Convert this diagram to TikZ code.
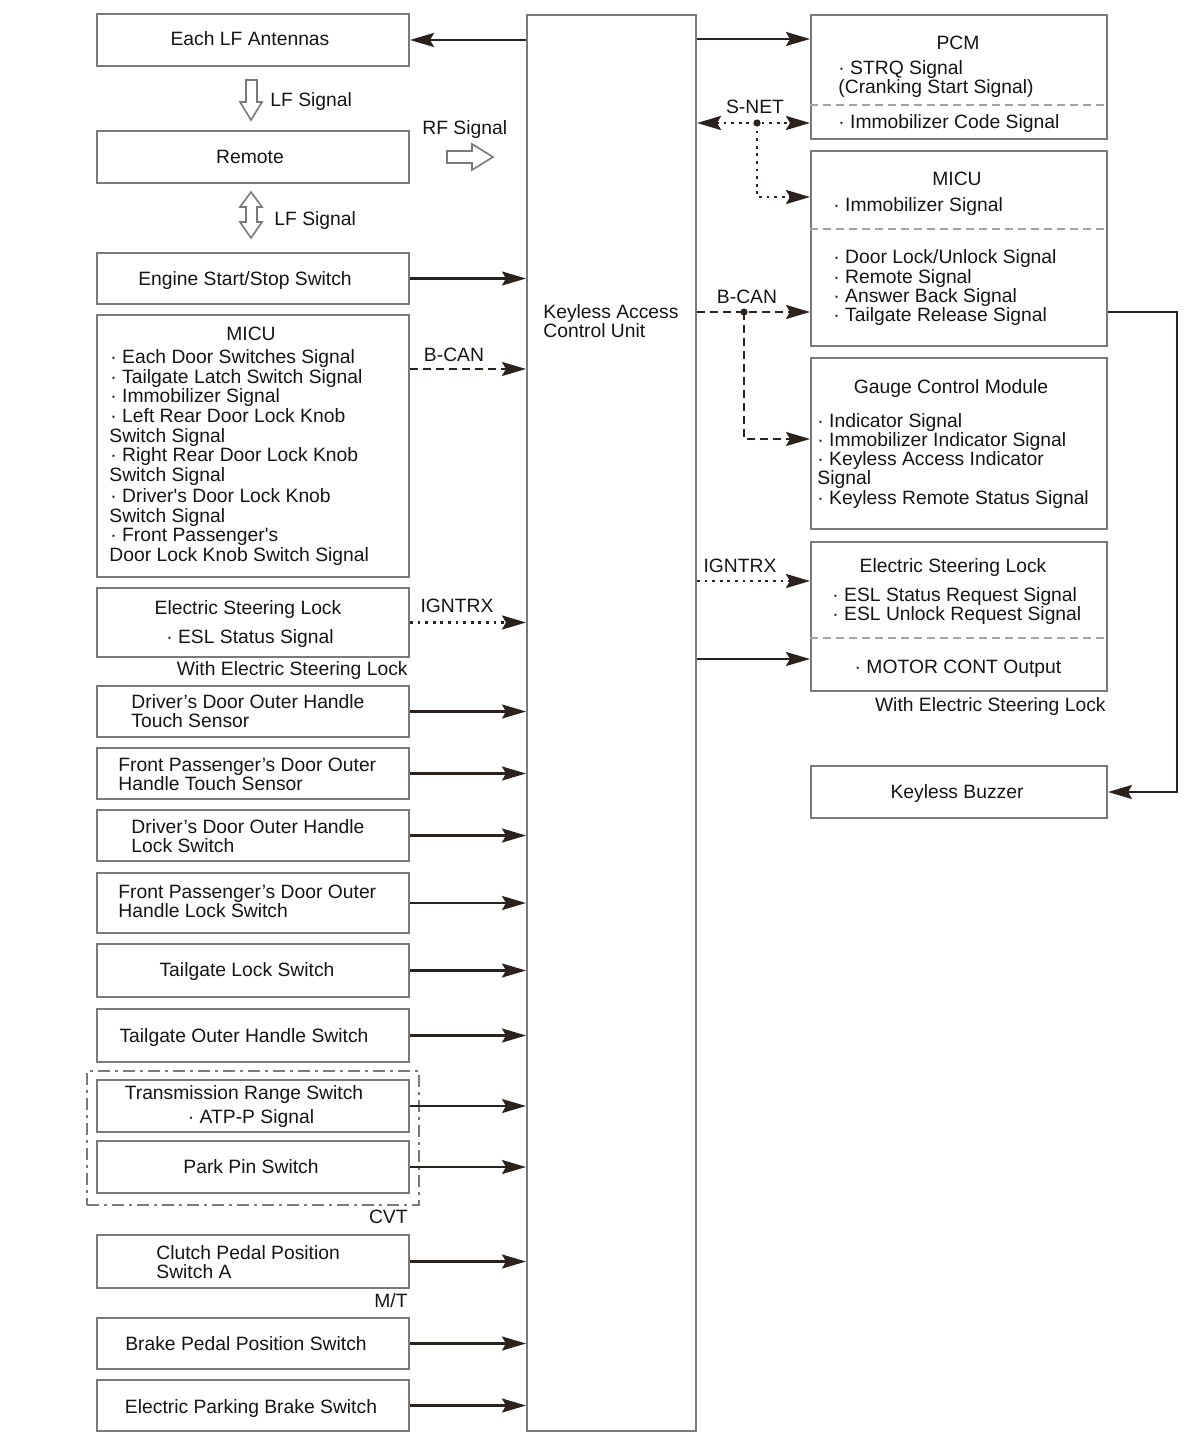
\documentclass[tikz,border=0pt]{standalone}
\usepackage{fontspec}
\setmainfont{Liberation Sans}
\usetikzlibrary{arrows.meta,calc}
\definecolor{boxc}{HTML}{7A7A7A}
\definecolor{arrc}{HTML}{2B211D}
\definecolor{txtc}{HTML}{151515}
\definecolor{sepc}{HTML}{A3A3A3}
\newcommand{\fs}{\fontsize{9.65pt}{9.7pt}\selectfont}
\begin{document}
\begin{tikzpicture}[x=0.5pt,y=-0.5pt,
 box/.style={draw=boxc, line width=1pt, fill=white, anchor=north west, inner sep=0pt, font=\fs, text=txtc},
 lbox/.style={box, minimum width=156pt},
 rbox/.style={box, minimum width=148pt},
 txt/.style={inner sep=0pt, font=\fs, text=txtc},
 tipa/.tip={Stealth[length=12pt,width=7pt,inset=2pt]},
 arr/.style={draw=arrc, line width=1.1pt, -tipa},
 dashln/.style={draw=arrc, line width=1.1pt, dash pattern=on 4pt off 2.5pt},
 dotln/.style={draw=arrc, line width=1.4pt, dash pattern=on 1.4pt off 2.4pt},
 sepln/.style={draw=sepc, line width=1pt, dash pattern=on 4pt off 2.5pt},
 hollow/.style={draw=boxc, line width=0.8pt, fill=white, line join=miter}
]
\useasboundingbox (0,0) rectangle (1200,1450);

% ---------- centre unit ----------
\node[box, minimum width=84.5pt, minimum height=708pt] (kacu) at (526,14) {};
\node[txt, anchor=base west] (k1) at (543,318) {Keyless Access};
\node[txt, anchor=base west] (k2) at (543,337) {Control Unit};

% ---------- left column ----------
\node[lbox, minimum height=26pt] (lf) at (96,13) {};
\node[txt, anchor=base] (lft) at (250,46) {Each LF Antennas};
\node[lbox, minimum height=26pt] (rem) at (96,130) {};
\node[txt, anchor=base] (remt) at (250,163) {Remote};
\node[lbox, minimum height=25.5pt] (eng) at (96,252) {};
\node[txt, anchor=base] (engt) at (245,285) {Engine Start/Stop Switch};

\node[lbox, minimum height=131pt] (micuL) at (96,314) {};
\node[txt, anchor=base] (mL0) at (251,340) {MICU};
\node[txt, anchor=base west] (mL1) at (110,363) {· Each Door Switches Signal};
\node[txt, anchor=base west] (mL2) at (110,383) {· Tailgate Latch Switch Signal};
\node[txt, anchor=base west] (mL3) at (110,402) {· Immobilizer Signal};
\node[txt, anchor=base west] (mL4) at (110,422) {· Left Rear Door Lock Knob};
\node[txt, anchor=base west] (mL5) at (109,442) {Switch Signal};
\node[txt, anchor=base west] (mL6) at (110,461) {· Right Rear Door Lock Knob};
\node[txt, anchor=base west] (mL7) at (109,481) {Switch Signal};
\node[txt, anchor=base west] (mL8) at (110,502) {· Driver\textquotesingle s Door Lock Knob};
\node[txt, anchor=base west] (mL9) at (109,522) {Switch Signal};
\node[txt, anchor=base west] (mL10) at (110,541) {· Front Passenger\textquotesingle s};
\node[txt, anchor=base west] (mL11) at (109,561) {Door Lock Knob Switch Signal};

\node[lbox, minimum height=34.5pt] (eslL) at (96,587) {};
\node[txt, anchor=base] (eL1) at (248,614) {Electric Steering Lock};
\node[txt, anchor=base] (eL2) at (250,643) {· ESL Status Signal};
\node[txt, anchor=base east] (eL3) at (408,675) {With Electric Steering Lock};

\node[lbox, minimum height=25.5pt] (dt) at (96,685) {};
\node[txt, anchor=base west] (dt1) at (131,708) {Driver’s Door Outer Handle};
\node[txt, anchor=base west] (dt2) at (131,727) {Touch Sensor};
\node[lbox, minimum height=25.5pt] (ft) at (96,747) {};
\node[txt, anchor=base west] (ft1) at (118,771) {Front Passenger’s Door Outer};
\node[txt, anchor=base west] (ft2) at (118,790) {Handle Touch Sensor};
\node[lbox, minimum height=25.5pt] (dl) at (96,809) {};
\node[txt, anchor=base west] (dl1) at (131,833) {Driver’s Door Outer Handle};
\node[txt, anchor=base west] (dl2) at (131,852) {Lock Switch};
\node[lbox, minimum height=30pt] (fl) at (96,872) {};
\node[txt, anchor=base west] (fl1) at (118,898) {Front Passenger’s Door Outer};
\node[txt, anchor=base west] (fl2) at (118,917) {Handle Lock Switch};
\node[lbox, minimum height=26.5pt] (tl) at (96,943) {};
\node[txt, anchor=base] (tlt) at (247,976) {Tailgate Lock Switch};
\node[lbox, minimum height=26.5pt] (to) at (96,1008) {};
\node[txt, anchor=base] (tot) at (244,1042) {Tailgate Outer Handle Switch};

\node[draw=boxc, line width=1pt, dash pattern=on 6pt off 2.5pt on 1.5pt off 2.5pt, anchor=north west, inner sep=0pt, minimum width=166pt, minimum height=67pt] (cvt) at (86,1070) {};
\node[lbox, minimum height=26pt] (trs) at (96,1079) {};
\node[txt, anchor=base] (trs1) at (244,1099) {Transmission Range Switch};
\node[txt, anchor=base] (trs2) at (251,1123) {· ATP-P Signal};
\node[lbox, minimum height=26pt] (pp) at (96,1140) {};
\node[txt, anchor=base] (ppt) at (251,1173) {Park Pin Switch};
\node[txt, anchor=base east] (cvtl) at (408,1223) {CVT};

\node[lbox, minimum height=26.5pt] (cp) at (96,1234) {};
\node[txt, anchor=base west] (cp1) at (156,1259) {Clutch Pedal Position};
\node[txt, anchor=base west] (cp2) at (156,1278) {Switch A};
\node[txt, anchor=base east] (mtl) at (408,1307) {M/T};
\node[lbox, minimum height=25.5pt] (bp) at (96,1317) {};
\node[txt, anchor=base] (bpt) at (246,1350) {Brake Pedal Position Switch};
\node[lbox, minimum height=25.5pt] (epb) at (96,1379) {};
\node[txt, anchor=base] (epbt) at (251,1413) {Electric Parking Brake Switch};

% hollow arrows
\draw[hollow] (246,80) -- (257,80) -- (257,102) -- (262,102) -- (251,120) -- (240,102) -- (246,102) -- cycle;
\node[txt, anchor=base west] (lfs1) at (270,106) {LF Signal};
\draw[hollow] (251,192) -- (262,207) -- (257,207) -- (257,222) -- (262,222) -- (251,238) -- (240,222) -- (246,222) -- (246,207) -- (240,207) -- cycle;
\node[txt, anchor=base west] (lfs2) at (274,225) {LF Signal};
\draw[hollow] (447,151) -- (472,151) -- (472,144) -- (493,157) -- (472,170) -- (472,163) -- (447,163) -- cycle;
\node[txt, anchor=base west] (rfs) at (422,134) {RF Signal};

% ---------- right column ----------
\node[rbox, minimum height=62pt] (pcm) at (810,14) {};
\node[txt, anchor=base] (p0) at (958,50) {PCM};
\node[txt, anchor=base west] (p1) at (838,75) {· STRQ Signal};
\node[txt, anchor=base west] (p2) at (838,94) {(Cranking Start Signal)};
\draw[sepln] ($(pcm.north west)+(0,91)$) -- ($(pcm.north east)+(0,91)$);
\node[txt, anchor=base west] (p3) at (838,128) {· Immobilizer Code Signal};

\node[rbox, minimum height=97.5pt] (micuR) at (810,150) {};
\node[txt, anchor=base] (mR0) at (957,185) {MICU};
\node[txt, anchor=base west] (mR1) at (833,211) {· Immobilizer Signal};
\draw[sepln] ($(micuR.north west)+(0,79)$) -- ($(micuR.north east)+(0,79)$);
\node[txt, anchor=base west] (mR2) at (833,263) {· Door Lock/Unlock Signal};
\node[txt, anchor=base west] (mR3) at (833,283) {· Remote Signal};
\node[txt, anchor=base west] (mR4) at (833,302) {· Answer Back Signal};
\node[txt, anchor=base west] (mR5) at (833,321) {· Tailgate Release Signal};

\node[rbox, minimum height=85.5pt] (gcm) at (810,357) {};
\node[txt, anchor=base] (g0) at (951,393) {Gauge Control Module};
\node[txt, anchor=base west] (g1) at (817,427) {· Indicator Signal};
\node[txt, anchor=base west] (g2) at (817,446) {· Immobilizer Indicator Signal};
\node[txt, anchor=base west] (g3) at (817,465) {· Keyless Access Indicator};
\node[txt, anchor=base west] (g4) at (817,484) {Signal};
\node[txt, anchor=base west] (g5) at (817,504) {· Keyless Remote Status Signal};

\node[rbox, minimum height=74.5pt] (eslR) at (810,541) {};
\node[txt, anchor=base] (eR0) at (953,572) {Electric Steering Lock};
\node[txt, anchor=base west] (eR1) at (832,601) {· ESL Status Request Signal};
\node[txt, anchor=base west] (eR2) at (832,620) {· ESL Unlock Request Signal};
\draw[sepln] ($(eslR.north west)+(0,97)$) -- ($(eslR.north east)+(0,97)$);
\node[txt, anchor=base] (eR3) at (958,673) {· MOTOR CONT Output};
\node[txt, anchor=base east] (eR4) at (1106,711) {With Electric Steering Lock};

\node[rbox, minimum height=26pt] (buz) at (810,765) {};
\node[txt, anchor=base] (buzt) at (957,798) {Keyless Buzzer};

% ---------- connectors, left ----------
\draw[arr] (kacu.west |- lf.east) -- (lf.east);
\draw[arr] (eng.east) -- (eng.east -| kacu.west);
\coordinate (mLo) at ($(micuL.north east)+(0,55)$);
\draw[dashln, -tipa] (mLo) -- (mLo -| kacu.west);
\node[txt, anchor=base] (bcanL) at (454,361) {B-CAN};
\draw[dotln, -tipa] (eslL.east) -- (eslL.east -| kacu.west);
\node[txt, anchor=base] (igL) at (457,612) {IGNTRX};
\foreach \b in {dt,ft,dl,fl,tl,to,trs,pp,cp,bp,epb}
  \draw[arr] (\b.east) -- (\b.east -| kacu.west);

% ---------- connectors, right ----------
\coordinate (pcmA) at ($(pcm.north west)+(0,25)$);
\draw[arr] (kacu.east |- pcmA) -- (pcmA);
\coordinate (pcmB) at ($(pcm.north west)+(0,109)$);
\draw[dotln, tipa-tipa] (kacu.east |- pcmB) -- (pcmB);
\coordinate (sj) at (757,0 |- pcmB);
\coordinate (micuA) at ($(micuR.north west)+(0,47)$);
\draw[dotln, -tipa] (sj) |- (micuA);
\fill[arrc] (sj) circle (1.8pt);
\node[txt, anchor=base] (snet) at (755,113) {S-NET};

\coordinate (micuB) at ($(micuR.north west)+(0,162)$);
\draw[dashln, -tipa] (kacu.east |- micuB) -- (micuB);
\coordinate (bj) at (744,0 |- micuB);
\coordinate (gcmA) at ($(gcm.north west)+(0,82)$);
\draw[dashln, -tipa] (bj) |- (gcmA);
\fill[arrc] (bj) circle (1.8pt);
\node[txt, anchor=base] (bcanR) at (747,303) {B-CAN};

\coordinate (eslA) at ($(eslR.north west)+(0,40)$);
\draw[dotln, -tipa] (kacu.east |- eslA) -- (eslA);
\node[txt, anchor=base] (igR) at (740,572) {IGNTRX};
\coordinate (eslB) at ($(eslR.north west)+(0,118)$);
\draw[arr] (kacu.east |- eslB) -- (eslB);

\coordinate (micuO) at ($(micuR.north east)+(0,162)$);
\coordinate (bzc) at (1177,0 |- micuO);
\draw[arr] (micuO) -- (bzc) |- (buz.east);
\end{tikzpicture}
\end{document}
